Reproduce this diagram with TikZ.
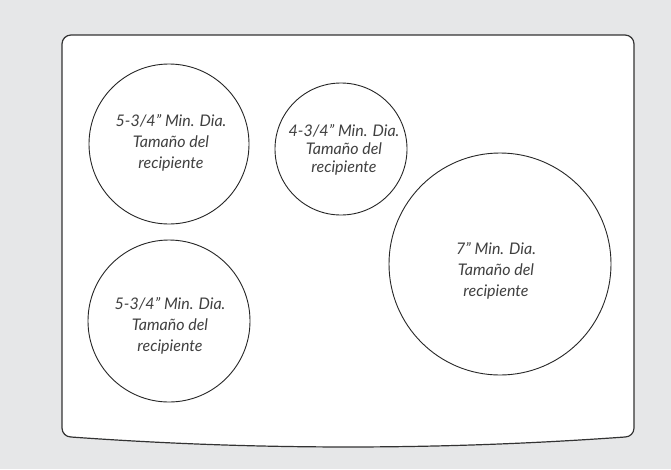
\documentclass[tikz,border=0pt]{standalone}
\usepackage{fontspec}
\setmainfont{Lato}
\begin{document}
\begin{tikzpicture}[x=1pt,y=-1pt,
  panel/.style={draw=black!80, fill=white, line width=1.2pt},
  ring/.style={circle, draw=black!85, line width=0.9pt, inner sep=0pt},
  lbl/.style={align=center, font=\itshape\fontsize{16}{21}\selectfont, text=black!75},
  lblsmall/.style={align=center, font=\itshape\fontsize{16}{18}\selectfont, text=black!75}]
\definecolor{bg}{HTML}{E6E7E8}
\fill[bg] (0,0) rectangle (671,469);
\useasboundingbox (0,0) rectangle (671,469);
\draw[panel] (62,44) .. controls (62,39) and (66,35) .. (71,35) -- (625,35)
  .. controls (630,35) and (634,39) .. (634,44) -- (634,428)
  .. controls (634,433) and (630,437) .. (625,437)
  .. controls (440,450.3) and (256,450.3) .. (71,437)
  .. controls (66,437) and (62,433) .. (62,428) -- cycle;
\node[ring, minimum size=160pt] (c1) at (169,144) {};
\node[ring, minimum size=132pt] (c2) at (341,149) {};
\node[ring, minimum size=162pt] (c3) at (169,321) {};
\node[ring, minimum size=222pt] (c4) at (500,264) {};
\node[lbl] (t1) at (171,143) {5-3/4” Min. Dia.\\Tamaño del\\recipiente};
\node[lblsmall] (t2) at (344,150) {4-3/4” Min. Dia.\\Tamaño del\\recipiente};
\node[lbl] (t3) at (170,326) {5-3/4” Min. Dia.\\Tamaño del\\recipiente};
\node[lbl] (t4) at (496,271) {7” Min. Dia.\\Tamaño del\\recipiente};
\end{tikzpicture}
\end{document}
